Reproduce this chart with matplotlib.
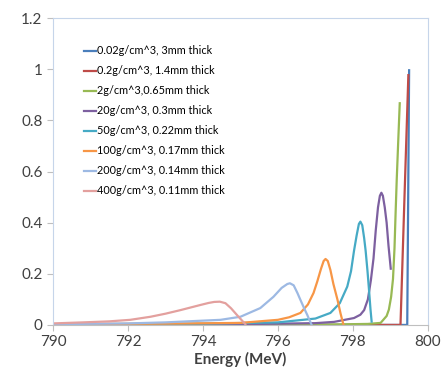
import matplotlib.pyplot as plt

plt.rcParams['font.family'] = ['Lato', 'DejaVu Sans']

labels = ['0.02g/cm^3, 3mm thick', '0.2g/cm^3, 1.4mm thick', '2g/cm^3,0.65mm thick',
          '20g/cm^3, 0.3mm thick', '50g/cm^3, 0.22mm thick', '100g/cm^3, 0.17mm thick',
          '200g/cm^3, 0.14mm thick', '400g/cm^3, 0.11mm thick']
colors = ['#4A7EBB', '#BE4B48', '#98B954', '#7D60A0', '#46AAC5', '#F79646', '#9DB9E3', '#E3A09E']

# energy (MeV) / relative intensity
e_002 = [790, 799.0, 799.45, 799.5]
y_002 = [0.0, 0.0, 0.0, 0.996]
e_02 = [790, 799.0, 799.27, 799.37, 799.48]
y_02 = [0.0, 0.0, 0.0, 0.47, 0.977]
e_2 = [790, 797.5, 798.4, 798.74, 798.9, 798.96, 799.02, 799.07, 799.11, 799.14, 799.17, 799.21, 799.25]
y_2 = [0.0, 0.002, 0.004, 0.008, 0.035, 0.06, 0.11, 0.18, 0.3, 0.44, 0.57, 0.72, 0.867]
e_20 = [790, 795, 797, 797.5, 798.03, 798.2, 798.3, 798.4, 798.48, 798.55, 798.61, 798.67,
        798.72, 798.76, 798.8, 798.85, 798.9, 798.95, 799.01]
y_20 = [0.001, 0.003, 0.007, 0.012, 0.027, 0.04, 0.058, 0.1, 0.175, 0.26, 0.37, 0.46,
        0.505, 0.517, 0.505, 0.46, 0.4, 0.31, 0.22]
e_50 = [790, 794, 796, 797, 797.4, 797.65, 797.85, 797.95, 798.03, 798.1, 798.16, 798.2,
        798.25, 798.3, 798.34, 798.39, 798.43, 798.47, 798.5]
y_50 = [0.002, 0.005, 0.01, 0.025, 0.047, 0.085, 0.15, 0.21, 0.29, 0.35, 0.395, 0.404,
        0.39, 0.34, 0.29, 0.21, 0.137, 0.06, 0.013]
e_100 = [790, 793, 795, 796, 796.3, 796.6, 796.8, 796.95, 797.05, 797.15, 797.22, 797.27,
         797.33, 797.4, 797.48, 797.59, 797.67, 797.75]
y_100 = [0.003, 0.005, 0.008, 0.02, 0.03, 0.047, 0.08, 0.125, 0.17, 0.22, 0.25, 0.258,
         0.25, 0.215, 0.16, 0.098, 0.045, 0.0]
e_200 = [790, 792, 793, 794.47, 795.0, 795.53, 795.88, 796.1, 796.25, 796.32, 796.42,
         796.52, 796.6, 796.7, 796.78, 796.9]
y_200 = [0.003, 0.006, 0.01, 0.02, 0.032, 0.066, 0.11, 0.145, 0.16, 0.163, 0.155,
         0.125, 0.098, 0.065, 0.04, 0.0]
e_400 = [790, 790.8, 791.5, 792.06, 792.6, 793.0, 793.4, 793.93, 794.15, 794.3, 794.45,
         794.6, 794.75, 794.9, 795.13]
y_400 = [0.006, 0.01, 0.014, 0.02, 0.032, 0.044, 0.058, 0.078, 0.086, 0.09, 0.091,
         0.085, 0.065, 0.04, 0.003]

xs = [e_002, e_02, e_2, e_20, e_50, e_100, e_200, e_400]
ys = [y_002, y_02, y_2, y_20, y_50, y_100, y_200, y_400]

fig = plt.figure(figsize=(4.42, 3.85), dpi=100)
ax = fig.add_axes([0.12, 0.156, 0.848, 0.797])

for x, y, c, lab in zip(xs, ys, colors, labels):
    ax.plot(x, y, color=c, lw=1.6, label=lab)

ax.set_xlim(790, 800)
ax.set_ylim(0, 1.2)
ax.set_xticks([790, 792, 794, 796, 798, 800])
ax.set_yticks([0, 0.2, 0.4, 0.6, 0.8, 1.0, 1.2])
ax.set_yticklabels(['0', '0.2', '0.4', '0.6', '0.8', '1', '1.2'])
ax.tick_params(axis='both', labelsize=11, length=4, colors='#404040')
ax.tick_params(axis='both', color='#BFBFBF')
for s in ['top', 'right', 'left']:
    ax.spines[s].set_color('#C6D5EA')
ax.spines['bottom'].set_color('#BFBFBF')
ax.set_xlabel('Energy (MeV)', fontsize=11, fontweight='bold', color='#404040', labelpad=2)

ax.legend(loc='upper left', bbox_to_anchor=(0.07, 0.925), frameon=False, fontsize=7.8,
          handlelength=1.1, handletextpad=0.1, labelspacing=0.83, borderaxespad=0)

fig.savefig('out.png', dpi=100)
